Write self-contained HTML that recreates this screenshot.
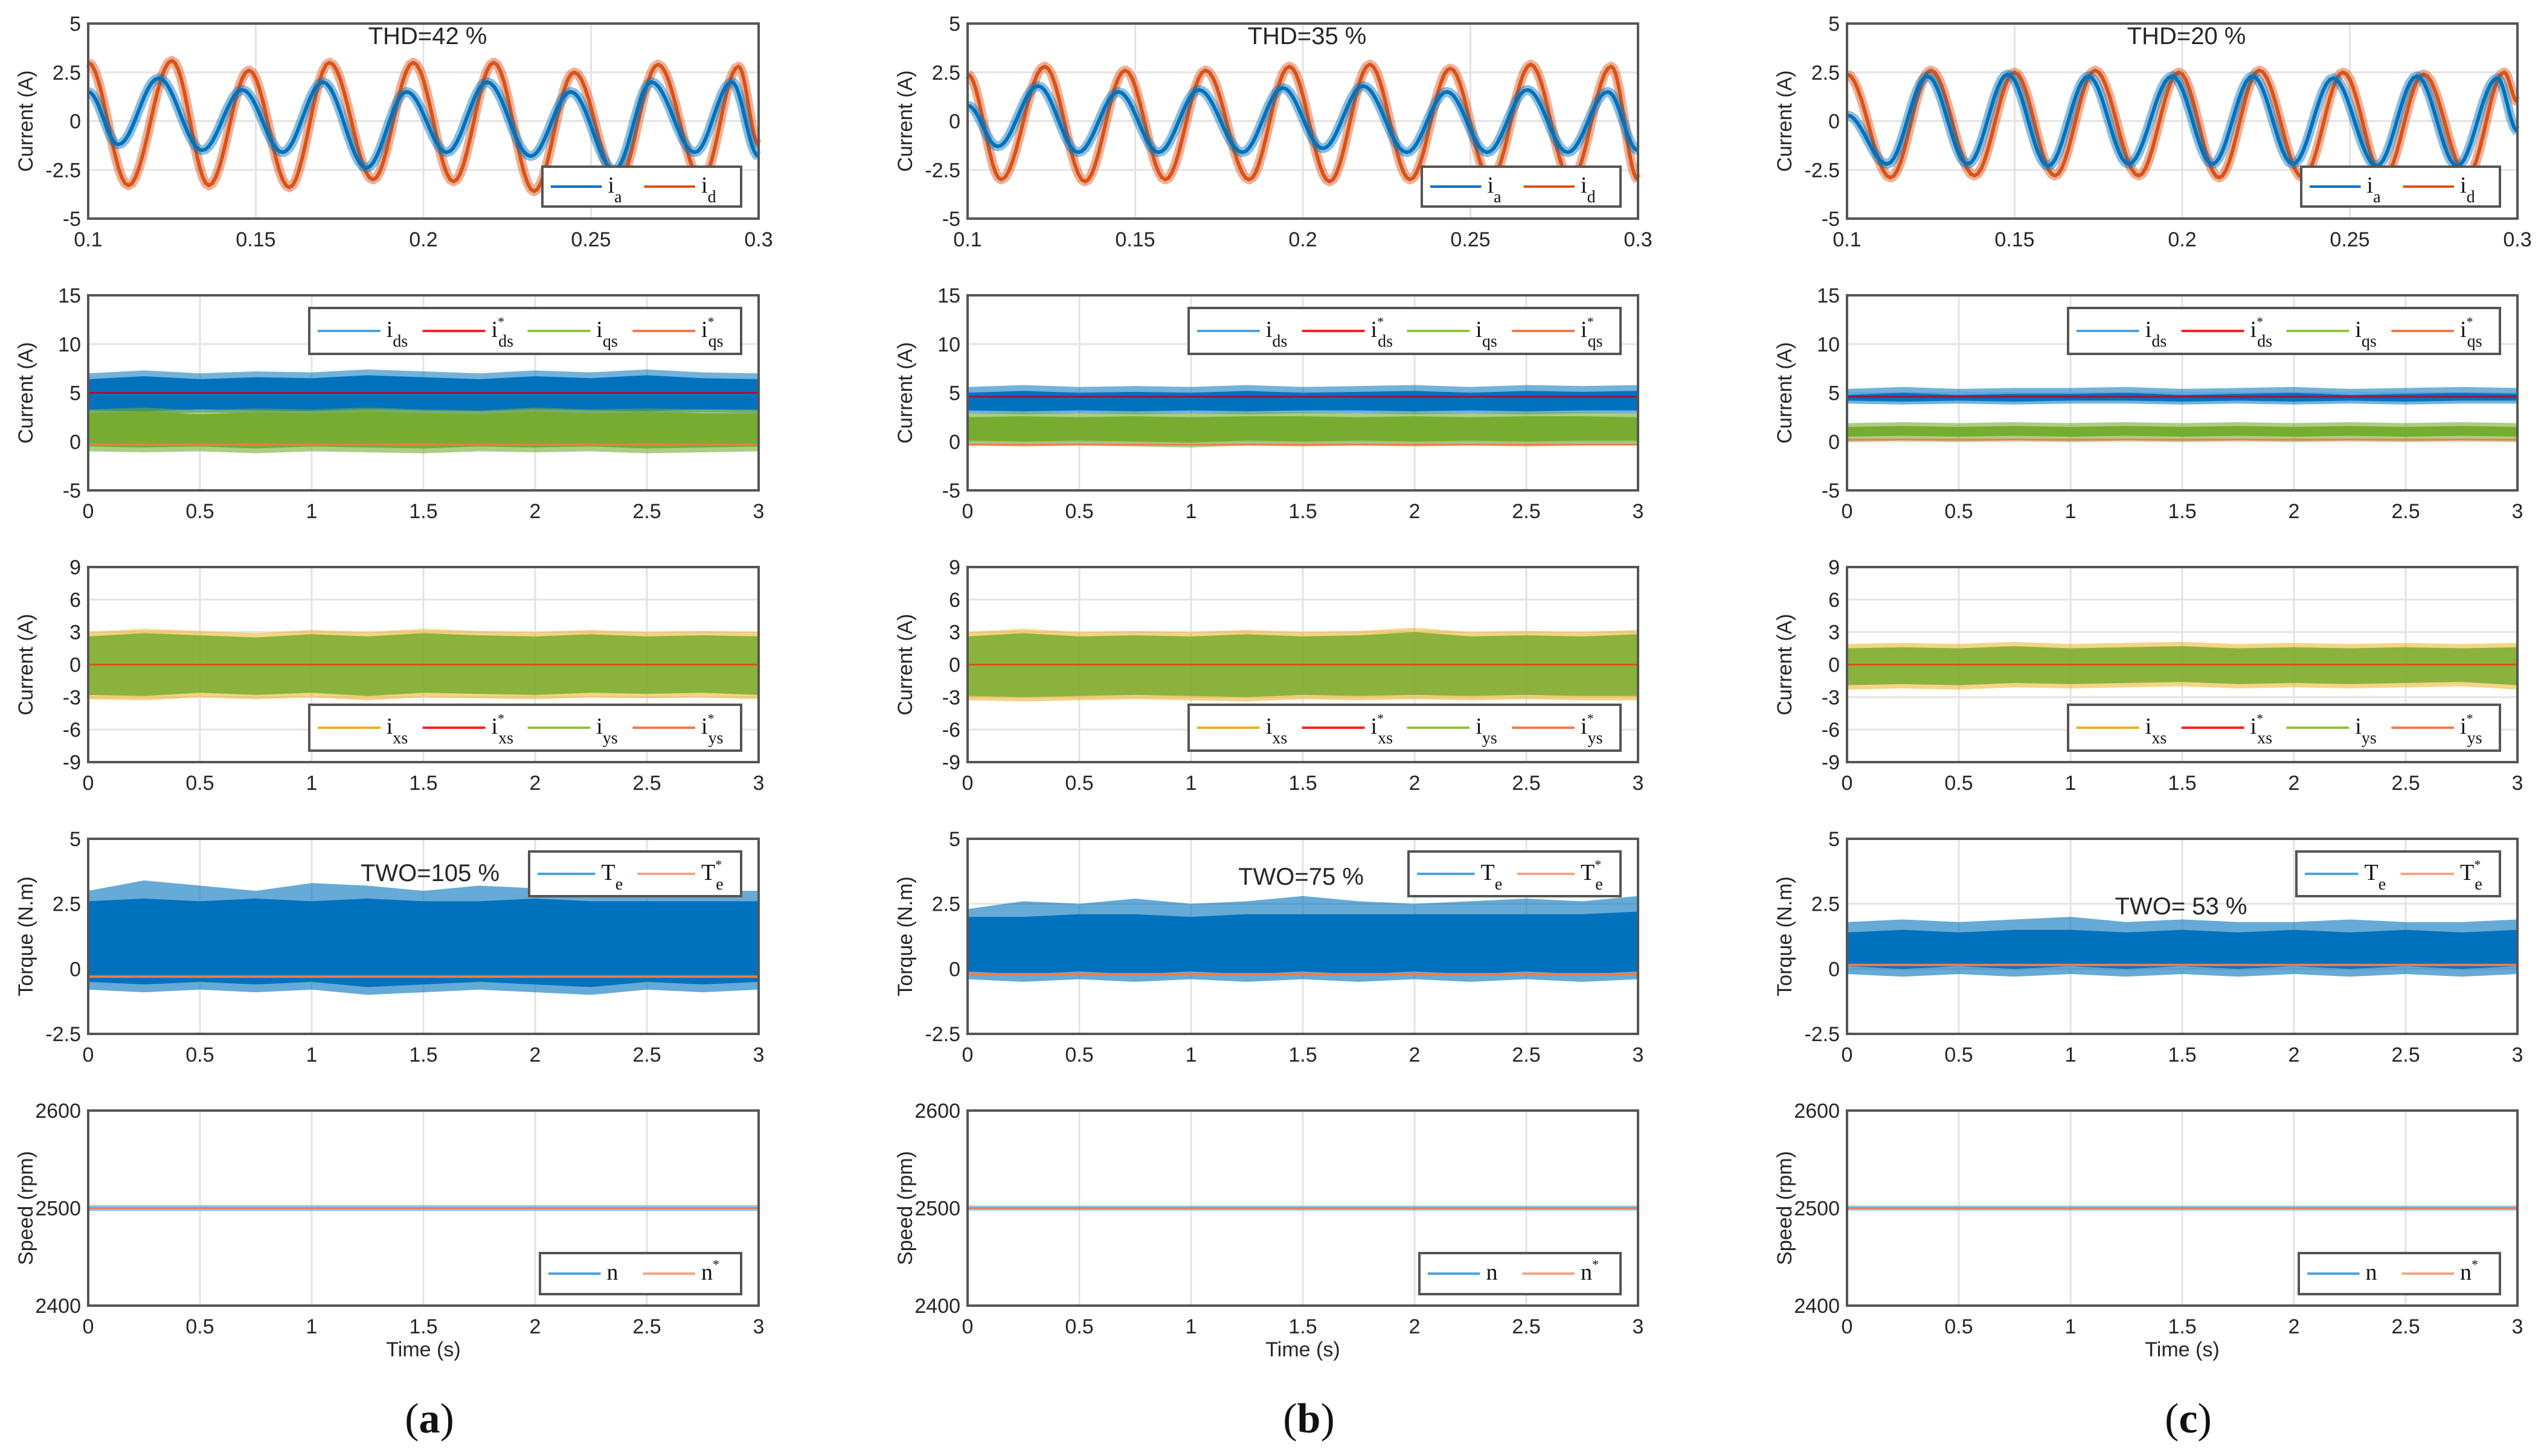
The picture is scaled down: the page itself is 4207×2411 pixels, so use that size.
<!DOCTYPE html>
<html><head><meta charset="utf-8">
<style>
html,body{margin:0;padding:0;background:#fff;}
svg{display:block;}
text{font-family:"Liberation Sans",Arial,sans-serif;fill:#262626;}
.lg{font-family:"Liberation Serif",serif;fill:#111;}
</style></head>
<body>
<svg id="fig" width="4207" height="2411" viewBox="0 0 4207 2411" xmlns="http://www.w3.org/2000/svg"></svg>
<script>
// ---------- data ----------
const colLabels = ["a", "b", "c"];
const thdLabels = ["THD=42 %", "THD=35 %", "THD=20 %"];
const twoLabels = ["TWO=105 %", "TWO=75 %", "TWO= 53 %"];
const xTicksPhase = [0.1, 0.15, 0.2, 0.25, 0.3];
const xTicksTime = [0, 0.5, 1, 1.5, 2, 2.5, 3];
const yTicksPhase = [-5, -2.5, 0, 2.5, 5];
const yTicksDQ = [-5, 0, 5, 10, 15];
const yTicksXY = [-9, -6, -3, 0, 3, 6, 9];
const yTicksTorque = [-2.5, 0, 2.5, 5];
const yTicksSpeed = [2400, 2500, 2600];
// phase-current extrema (time, value)
const iaT = [
 [0.1,0.109,0.121,0.134,0.146,0.158,0.170,0.183,0.195,0.207,0.219,0.232,0.244,0.257,0.268,0.281,0.292,0.3],
 [0.1,0.109,0.121,0.133,0.145,0.157,0.169,0.182,0.194,0.206,0.218,0.231,0.243,0.255,0.267,0.279,0.291,0.3],
 [0.1,0.112,0.124,0.136,0.148,0.160,0.172,0.184,0.197,0.209,0.221,0.233,0.245,0.258,0.270,0.282,0.294,0.3]];
const iaV = [
 [1.5,-1.2,2.2,-1.5,1.6,-1.6,2.0,-2.4,1.5,-1.6,2.0,-1.8,1.5,-2.5,2.0,-1.6,2.0,-1.8],
 [0.8,-1.3,1.8,-1.6,1.5,-1.6,1.6,-1.6,1.7,-1.4,1.8,-1.6,1.5,-1.6,1.6,-1.6,1.5,-1.5],
 [0.3,-2.2,2.3,-2.2,2.4,-2.3,2.3,-2.2,2.3,-2.2,2.3,-2.2,2.2,-2.3,2.3,-2.3,2.2,-0.5]];
const idT = [
 [0.1,0.112,0.125,0.136,0.148,0.160,0.172,0.185,0.197,0.209,0.221,0.233,0.245,0.258,0.270,0.283,0.294,0.3],
 [0.1,0.110,0.123,0.135,0.147,0.159,0.171,0.184,0.196,0.208,0.220,0.232,0.244,0.256,0.268,0.280,0.292,0.3],
 [0.1,0.113,0.125,0.138,0.150,0.162,0.174,0.187,0.199,0.211,0.223,0.236,0.248,0.260,0.272,0.285,0.296,0.3]];
const idV = [
 [3.0,-3.3,3.1,-3.3,2.6,-3.4,3.0,-3.0,3.0,-3.1,3.0,-3.6,2.5,-3.1,2.9,-3.0,2.8,-1.2],
 [2.4,-3.0,2.8,-3.1,2.6,-3.0,2.6,-3.0,2.8,-3.1,2.9,-3.0,2.7,-3.0,2.9,-3.0,2.8,-3.0],
 [2.4,-2.9,2.6,-2.8,2.5,-2.8,2.6,-2.8,2.5,-2.9,2.6,-2.9,2.5,-2.9,2.4,-2.8,2.5,1.0]];
// noise envelopes for dense signals (upper / lower over 0..3 s), per column
const envT = [0,0.25,0.5,0.75,1,1.25,1.5,1.75,2,2.25,2.5,2.75,3];
const idsHi = [[7.0,7.3,7.0,7.2,7.1,7.4,7.2,7.0,7.3,7.1,7.4,7.1,7.0],[5.6,5.8,5.6,5.7,5.6,5.8,5.6,5.7,5.8,5.6,5.8,5.7,5.8],[5.4,5.6,5.4,5.5,5.5,5.6,5.4,5.5,5.6,5.4,5.5,5.6,5.5]];
const idsLo = [[2.9,2.8,3.0,2.9,2.8,3.0,2.9,2.8,3.0,2.9,2.8,3.0,2.9],[2.9,2.8,2.9,2.8,2.9,2.8,2.9,2.9,2.8,2.9,2.8,2.9,2.9],[3.9,3.8,3.9,3.8,3.9,3.9,3.8,3.9,3.8,3.9,3.8,3.9,3.9]];
const idsRef = [5, 4.6, 4.6];
const iqsHi = [[3.3,3.5,3.2,3.4,3.3,3.5,3.3,3.2,3.5,3.3,3.4,3.3,3.3],[2.9,3.0,2.9,3.0,2.9,3.0,3.0,2.9,3.0,2.9,3.0,3.0,2.9],[1.9,2.0,1.9,2.0,1.9,2.0,1.9,2.0,1.9,2.0,1.9,2.0,1.9]];
const iqsLo = [[-1.0,-1.1,-1.0,-1.2,-1.0,-1.1,-1.2,-1.0,-1.1,-1.0,-1.2,-1.1,-1.0],[-0.4,-0.5,-0.4,-0.5,-0.6,-0.4,-0.5,-0.4,-0.5,-0.4,-0.5,-0.4,-0.4],[0.0,0.1,0.0,0.1,0.0,0.1,0.0,0.1,0.0,0.1,0.0,0.1,0.0]];
const iqsRef = [-0.3, -0.3, 0.2];
const ixyHi = [[3.0,3.3,3.1,2.9,3.2,3.0,3.3,3.1,3.0,3.2,3.0,3.1,3.0],[3.0,3.3,3.0,3.1,3.0,3.2,3.0,3.1,3.4,3.0,3.1,3.0,3.2],[1.9,2.0,1.9,2.1,1.9,2.0,2.1,1.9,2.0,1.9,2.0,1.9,2.0]];
const ixyLo = [[-3.2,-3.3,-3.0,-3.2,-3.0,-3.3,-3.0,-3.1,-3.2,-3.0,-3.1,-3.0,-3.2],[-3.3,-3.4,-3.3,-3.2,-3.3,-3.4,-3.2,-3.3,-3.2,-3.3,-3.2,-3.3,-3.3],[-2.3,-2.2,-2.3,-2.1,-2.2,-2.1,-2.0,-2.2,-2.1,-2.2,-2.1,-2.0,-2.3]];
const teHi = [[3.0,3.4,3.2,3.0,3.3,3.2,3.0,3.2,3.1,3.0,3.1,3.0,3.0],[2.3,2.6,2.5,2.7,2.5,2.6,2.8,2.6,2.5,2.6,2.7,2.6,2.8],[1.8,1.9,1.8,1.9,2.0,1.8,1.9,1.8,1.8,1.9,1.8,1.8,1.9]];
const teLo = [[-0.8,-0.9,-0.8,-0.9,-0.8,-1.0,-0.9,-0.8,-0.9,-1.0,-0.8,-0.9,-0.8],[-0.4,-0.5,-0.4,-0.5,-0.4,-0.5,-0.4,-0.5,-0.4,-0.5,-0.4,-0.5,-0.4],[-0.2,-0.3,-0.2,-0.3,-0.2,-0.3,-0.2,-0.3,-0.2,-0.3,-0.2,-0.3,-0.2]];
const teCoreHi = [[2.6,2.7,2.6,2.7,2.6,2.7,2.6,2.6,2.7,2.6,2.6,2.6,2.6],[2.0,2.0,2.1,2.1,2.0,2.1,2.1,2.1,2.1,2.1,2.1,2.1,2.2],[1.4,1.5,1.4,1.5,1.5,1.4,1.5,1.4,1.5,1.4,1.5,1.4,1.5]];
const teRef = [-0.3, -0.2, 0.15];
const speedRef = [2500, 2500, 2500];
const speedRipple = [3, 2.5, 2.5];

// ---------- layout ----------
const NS = "http://www.w3.org/2000/svg";
const svg = document.getElementById("fig");
const colLeft = [146, 1602, 3058];
const rowTop = [39, 489, 939, 1389, 1839];
const W = 1110, H = 323;
const BLUE = "#0072bd", ORANGE = "#d95319", GREEN = "#77ac30", YELLOW = "#edb120", RED = "#ff2020", SALMON="#f07c4a";

function mk(tag, attrs, parent){ const e=document.createElementNS(NS,tag); for(const k in attrs) e.setAttribute(k,attrs[k]); (parent||svg).appendChild(e); return e; }
function xs(L,x0,x1){ return v => L + (v-x0)/(x1-x0)*W; }
function ys(T,y0,y1){ return v => T + H - (v-y0)/(y1-y0)*H; }

function axes(g,L,T,xt,yt,sx,sy,ylabel){
  for(const t of xt){ const x=sx(t);
    const gl=mk("line",{x1:x,x2:x,y1:T,y2:T+H,stroke:"#e3e3e3","stroke-width":3},g);
     
    const tx=mk("text",{x:x,y:T+H+46,"font-size":34,"text-anchor":"middle"},g); tx.textContent=t;
     
  }
  for(const t of yt){ const y=sy(t);
    const gl=mk("line",{x1:L,x2:L+W,y1:y,y2:y,stroke:"#e3e3e3","stroke-width":3},g);
     
    const ty=mk("text",{x:L-12,y:y+12,"font-size":34,"text-anchor":"end"},g); ty.textContent=t;
     
  }
  const yl=mk("text",{x:0,y:0,"font-size":34,"text-anchor":"middle",transform:`translate(${L-92},${T+H/2}) rotate(-90)`},g);
  yl.textContent=ylabel;
   
}
function frame(g,L,T){
  const r=mk("rect",{x:L,y:T,width:W,height:H,fill:"none",stroke:"#555","stroke-width":4},g);
   
}
function band(g,sx,sy,hi,lo,color,op){
  let d="M"; envT.forEach((t,i)=>{ d+=`${sx(t)},${sy(hi[i])} L`; });
  for(let i=envT.length-1;i>=0;i--){ d+=`${sx(envT[i])},${sy(lo[i])}`+(i?" L":" Z"); }
  const p=mk("path",{d:d,fill:color,"fill-opacity":op},g);
   
  return p;
}
function hline(g,sx,sy,v,color,w){
  const l=mk("line",{x1:sx(0),x2:sx(3),y1:sy(v),y2:sy(v),stroke:color,"stroke-width":w},g);
   
}
// smooth half-cosine path through successive extrema
function smoothPts(tt,vv,sx,sy){
  const out=[];
  for(let i=0;i<tt.length-1;i++){
    for(let k=0;k<12;k++){
      const f=k/12, w=(1-Math.cos(Math.PI*f))/2;
      out.push(`${sx(tt[i]+(tt[i+1]-tt[i])*f).toFixed(1)},${sy(vv[i]+(vv[i+1]-vv[i])*w).toFixed(1)}`);
    }
  }
  const n=tt.length-1; out.push(`${sx(tt[n])},${sy(vv[n])}`);
  return out.join(" ");
}
function legend(g,x,y,w,h,items){
  const r=mk("rect",{x:x,y:y,width:w,height:h,fill:"#fff",stroke:"#555","stroke-width":4},g);
   
  const step=(w-20)/items.length;
  items.forEach((it,i)=>{
    const x0=x+14+i*step, yc=y+h/2;
    const l=mk("line",{x1:x0,x2:x0+step-70,y1:yc,y2:yc,stroke:it.c,"stroke-width":4},g);
     
    const t=mk("text",{x:x0+step-60,y:yc+10,"font-size":38,class:"lg"},g);
     
    t.appendChild(document.createTextNode(it.m));
    if(it.star){ const s=mk("tspan",{dy:-18,"font-size":22},t); s.textContent="*"; }
    if(it.s){ const s=mk("tspan",{dx:it.star?-10:0,dy:it.star?34:16,"font-size":28},t); s.textContent=it.s; }
  });
}

for(let c=0;c<3;c++){
  const L=colLeft[c];
  // --- row 1: phase currents
  { const T=rowTop[0]; const g=mk("g",{});  
    const sx=xs(L,0.1,0.3), sy=ys(T,-5,5);
    axes(g,L,T,xTicksPhase,yTicksPhase,sx,sy,"Current (A)");
    [[idT[c],idV[c],ORANGE,"id-curve"],[iaT[c],iaV[c],BLUE,"ia-curve"]].forEach(([tt,vv,col,nm])=>{
      const pts=smoothPts(tt,vv,sx,sy);
      const p1=mk("polyline",{points:pts,fill:"none",stroke:col,"stroke-width":16,"stroke-opacity":0.45,"stroke-linejoin":"round"},g);
       
      const p2=mk("polyline",{points:pts,fill:"none",stroke:col,"stroke-width":6,"stroke-linejoin":"round"},g);
       
    });
    frame(g,L,T);
    legend(g,L+752,T+237,329,66,[{c:BLUE,m:"i",s:"a"},{c:ORANGE,m:"i",s:"d"}]);
    const th=mk("text",{x:L+562,y:T+34,"font-size":40,"text-anchor":"middle"},g); th.textContent=thdLabels[c];
     
  }
  // --- row 2: dq currents
  { const T=rowTop[1]; const g=mk("g",{});  
    const sx=xs(L,0,3), sy=ys(T,-5,15);
    axes(g,L,T,xTicksTime,yTicksDQ,sx,sy,"Current (A)");
    band(g,sx,sy,idsHi[c],idsLo[c],BLUE,0.55);
    band(g,sx,sy,idsHi[c].map(v=>v-0.6),idsLo[c].map(v=>v+0.3),BLUE,1);
    band(g,sx,sy,iqsHi[c],iqsLo[c],GREEN,0.6);
    band(g,sx,sy,iqsHi[c].map(v=>v-0.4),iqsLo[c].map(v=>v+0.5),GREEN,1);
    hline(g,sx,sy,idsRef[c],"#a2142f",3);
    hline(g,sx,sy,iqsRef[c],SALMON,3);
    frame(g,L,T);
    legend(g,L+366,T+21,715,76,[{c:"#4aa3df",m:"i",s:"ds"},{c:RED,m:"i",s:"ds",star:1},{c:"#8cc63f",m:"i",s:"qs"},{c:SALMON,m:"i",s:"qs",star:1}]);
  }
  // --- row 3: xy currents
  { const T=rowTop[2]; const g=mk("g",{});  
    const sx=xs(L,0,3), sy=ys(T,-9,9);
    axes(g,L,T,xTicksTime,yTicksXY,sx,sy,"Current (A)");
    band(g,sx,sy,ixyHi[c],ixyLo[c],YELLOW,0.55);
    band(g,sx,sy,ixyHi[c].map(v=>v-0.4),ixyLo[c].map(v=>v+0.4),GREEN,0.85);
    hline(g,sx,sy,0,ORANGE,3);
    frame(g,L,T);
    legend(g,L+366,T+228,715,76,[{c:YELLOW,m:"i",s:"xs"},{c:RED,m:"i",s:"xs",star:1},{c:"#8cc63f",m:"i",s:"ys"},{c:SALMON,m:"i",s:"ys",star:1}]);
  }
  // --- row 4: torque
  { const T=rowTop[3]; const g=mk("g",{});  
    const sx=xs(L,0,3), sy=ys(T,-2.5,5);
    axes(g,L,T,xTicksTime,yTicksTorque,sx,sy,"Torque (N.m)");
    band(g,sx,sy,teHi[c],teLo[c],BLUE,0.6);
    band(g,sx,sy,teCoreHi[c],teLo[c].map(v=>v+0.3),BLUE,1);
    hline(g,sx,sy,teRef[c],SALMON,4);
    frame(g,L,T);
    const lx=c==2?L+744:L+730;
    legend(g,lx,T+21,L+1081-lx,74,[{c:"#4aa3df",m:"T",s:"e"},{c:"#f4a582",m:"T",s:"e",star:1}]);
    const tw=mk("text",{x:[L+566,L+552,L+553][c],y:[T+70,T+76,T+125][c],"font-size":40,"text-anchor":"middle"},g); tw.textContent=twoLabels[c];
     
  }
  // --- row 5: speed
  { const T=rowTop[4]; const g=mk("g",{});  
    const sx=xs(L,0,3), sy=ys(T,2400,2600);
    axes(g,L,T,xTicksTime,yTicksSpeed,sx,sy,"Speed (rpm)");
    const r=mk("rect",{x:sx(0),y:sy(speedRef[c]+speedRipple[c]),width:W,height:sy(speedRef[c]-speedRipple[c])-sy(speedRef[c]+speedRipple[c]),fill:"#6fb3e0","fill-opacity":0.8},g);
     
    hline(g,sx,sy,speedRef[c],SALMON,3);
    frame(g,L,T);
    legend(g,L+748,T+236,333,68,[{c:"#4aa3df",m:"n"},{c:"#f4a582",m:"n",star:1}]);
    const xl=mk("text",{x:L+W/2,y:T+H+84,"font-size":34,"text-anchor":"middle"},g); xl.textContent="Time (s)";
     
  }
  const cl=mk("text",{x:L+W/2+10,y:2372,"font-size":70,"text-anchor":"middle",class:"lg"});
  cl.appendChild(document.createTextNode("("));
  const b=mk("tspan",{"font-weight":"bold"},cl); b.textContent=colLabels[c];
  cl.appendChild(document.createTextNode(")"));
   
}
</script>
</body></html>
